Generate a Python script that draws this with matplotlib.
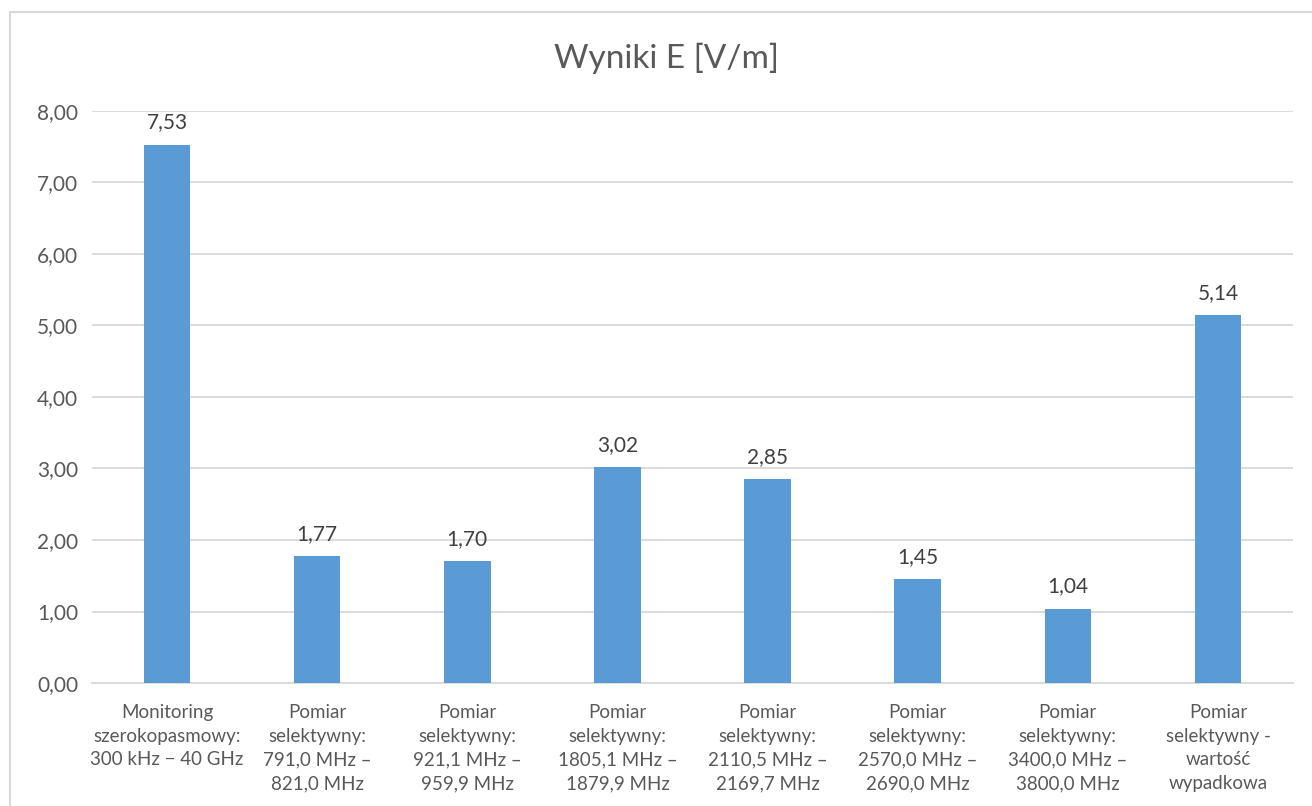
import matplotlib.pyplot as plt
from matplotlib.patches import Rectangle

# dane pomiarowe
kategorie = [
    "Monitoring\nszerokopasmowy:\n300 kHz \u2212 40 GHz",
    "Pomiar\nselektywny:\n791,0 MHz \u2013\n821,0 MHz",
    "Pomiar\nselektywny:\n921,1 MHz \u2013\n959,9 MHz",
    "Pomiar\nselektywny:\n1805,1 MHz \u2013\n1879,9 MHz",
    "Pomiar\nselektywny:\n2110,5 MHz \u2013\n2169,7 MHz",
    "Pomiar\nselektywny:\n2570,0 MHz \u2013\n2690,0 MHz",
    "Pomiar\nselektywny:\n3400,0 MHz \u2013\n3800,0 MHz",
    "Pomiar\nselektywny -\nwarto\u015b\u0107\nwypadkowa",
]
wartosci = [7.53, 1.77, 1.70, 3.02, 2.85, 1.45, 1.04, 5.14]
y_ticki = [0, 1, 2, 3, 4, 5, 6, 7, 8]

plt.rcParams['font.family'] = ['Lato', 'DejaVu Sans']
szary = '#595959'
linia = '#D9D9D9'

fig = plt.figure(figsize=(13.12, 8.06), dpi=100)
ax = fig.add_axes([92/1312, 1 - 683/806, (1293 - 92)/1312, (683 - 111)/806])

# ramka wykresu
fig.patches.append(Rectangle((10/1312, -0.1), 1.2, 1 - 12/806 + 0.1,
                             transform=fig.transFigure, fill=False,
                             edgecolor=linia, linewidth=1.5))

x = range(len(wartosci))
ax.bar(x, wartosci, width=0.31, color='#5B9BD5', zorder=3)
for xi, v in zip(x, wartosci):
    ax.text(xi, v + 0.17, f"{v:.2f}".replace('.', ','), ha='center', va='bottom',
            fontsize=15, color='#404040')

ax.set_xlim(-0.5, len(wartosci) - 0.5)
ax.set_ylim(0, 8)
ax.set_yticks(y_ticki)
ax.set_yticklabels([f"{t:.2f}".replace('.', ',') for t in y_ticki], fontsize=15, color=szary)
ax.set_xticks(list(x))
ax.set_xticklabels(kategorie, fontsize=13.5, color=szary, linespacing=1.48, va='top')
ax.tick_params(axis='both', length=0)
ax.tick_params(axis='x', pad=15)
ax.tick_params(axis='y', pad=10)
ax.grid(axis='y', color=linia, linewidth=1.3, zorder=0)
for s in ['left', 'right', 'top']:
    ax.spines[s].set_visible(False)
ax.spines['bottom'].set_color(linia)
ax.spines['bottom'].set_linewidth(1.3)

fig.text(667/1312, 1 - 58/806, "Wyniki E [V/m]", ha='center', va='center',
         fontsize=24, color=szary)

fig.savefig('out.png', dpi=100)
